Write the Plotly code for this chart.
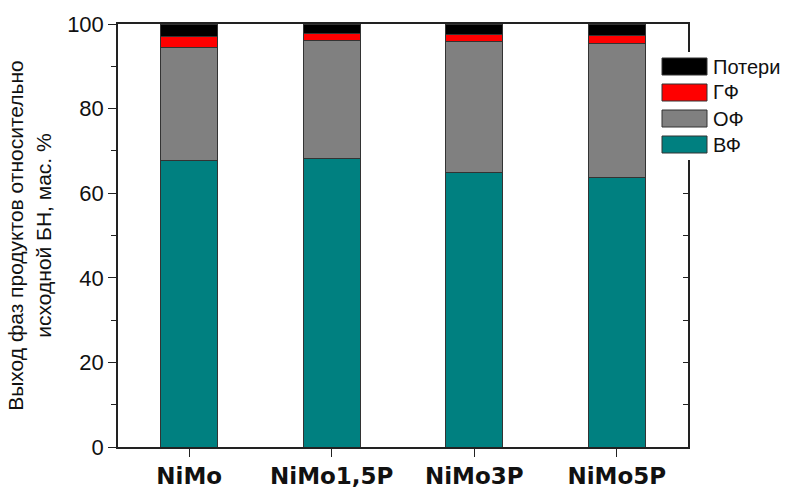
import plotly.graph_objects as go

categories = ["NiMo", "NiMo1,5P", "NiMo3P", "NiMo5P"]
vf = [67.8, 68.2, 64.9, 63.8]        # ВФ
of = [26.7, 27.85, 30.9, 31.6]       # ОФ
gf = [2.5, 1.75, 1.8, 1.8]           # ГФ
losses = [3.0, 2.2, 2.4, 2.8]        # Потери

series = [("ВФ", vf, "#008080"), ("ОФ", of, "#808080"),
          ("ГФ", gf, "#FF0000"), ("Потери", losses, "#000000")]

W, H = 787, 488
L, R, T, B = 118, 99, 24, 41
pw, ph = W - L - R, H - T - B

def px(x):
    return (x - L) / pw

def py(y):
    return (H - B - y) / ph

fig = go.Figure()
for name, vals, color in series:
    fig.add_trace(go.Bar(x=categories, y=vals, name=name, width=0.4, showlegend=False,
                         marker=dict(color=color, line=dict(color="#333333", width=1))))

# invisible trace for the right-hand mirrored axis with inward ticks
fig.add_trace(go.Scatter(x=categories, y=[None]*4, yaxis="y2", showlegend=False,
                         hoverinfo="skip"))

font = "Liberation Sans, Arial, sans-serif"

# custom legend (large swatches as in the original)
shapes = [dict(type="rect", xref="paper", yref="paper", layer="above",
               x0=px(655), x1=px(787), y0=py(160), y1=py(52),
               fillcolor="white", line=dict(width=0))]
annotations = []
for i, (name, vals, color) in enumerate(reversed(series)):
    top = 58 + 26 * i
    shapes.append(dict(type="rect", xref="paper", yref="paper", layer="above",
                       x0=px(662), x1=px(707), y0=py(top + 17), y1=py(top),
                       fillcolor=color, line=dict(color="#333333", width=1)))
    annotations.append(dict(text=name, xref="paper", yref="paper", showarrow=False,
                            x=px(711), y=py(top + 8.5), xanchor="left", yanchor="middle",
                            font=dict(size=20, family=font, color="#111111")))

fig.update_layout(
    width=W, height=H,
    margin=dict(l=L, r=R, t=T, b=B),
    barmode="stack",
    plot_bgcolor="white", paper_bgcolor="white",
    font=dict(family=font, color="#111111"),
    showlegend=False,
    shapes=shapes, annotations=annotations,
    xaxis=dict(range=[-0.5, 3.5], showline=True, linecolor="#222222", linewidth=1.5,
               mirror=True, ticks="outside", ticklen=8, tickcolor="#222222",
               automargin=False,
               tickfont=dict(size=23, family="DejaVu Sans, sans-serif", weight="bold"),
               showgrid=False),
    yaxis=dict(range=[0, 100], tickvals=[0, 20, 40, 60, 80, 100], showline=True,
               linecolor="#222222", linewidth=1.5, ticks="outside", ticklen=8,
               tickcolor="#222222", tickfont=dict(size=22, family=font), showgrid=False,
               zeroline=False, automargin=False,
               minor=dict(tickvals=[10, 30, 50, 70, 90], ticks="outside", ticklen=5,
                          tickcolor="#222222"),
               title=dict(text="Выход фаз продуктов относительно<br>исходной БН, мас. %",
                          font=dict(size=21, family=font), standoff=10)),
    yaxis2=dict(range=[0, 100], overlaying="y", side="right", showline=True,
                linecolor="#222222", linewidth=1.5, ticks="inside", ticklen=5,
                tickcolor="#222222", showticklabels=False, showgrid=False, zeroline=False,
                automargin=False,
                tickvals=[0, 10, 20, 30, 40, 50, 60, 70, 80, 90, 100]),
)

fig.write_html("out.html", config={"displayModeBar": False},
               post_script="document.body.style.margin='0px';document.body.style.overflow='hidden';")
